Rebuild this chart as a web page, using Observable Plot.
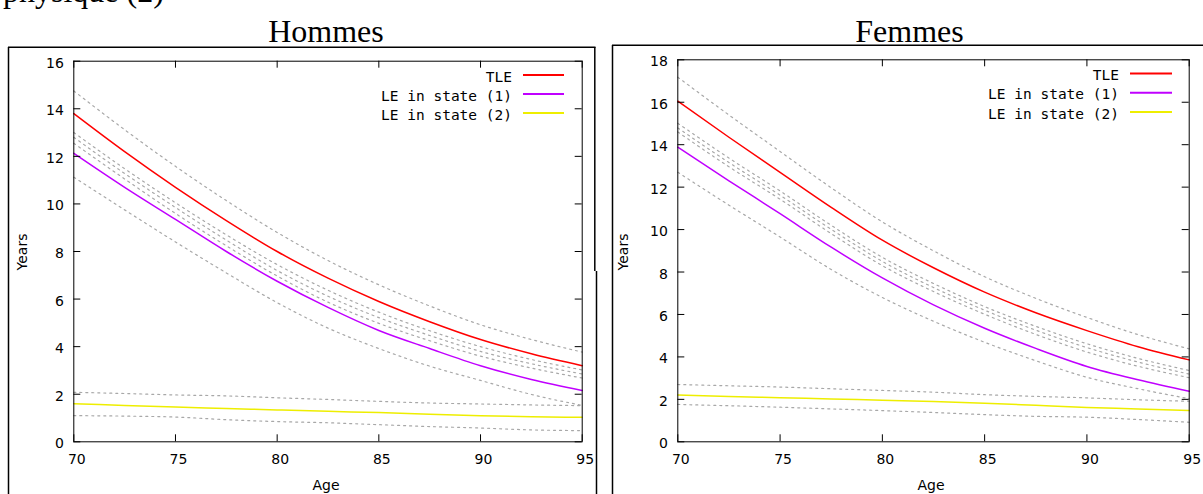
<!DOCTYPE html>
<html>
<head>
<meta charset="utf-8">
<script src="https://cdn.jsdelivr.net/npm/d3@7"></script>
<script src="https://cdn.jsdelivr.net/npm/@observablehq/plot@0.6"></script>
<style>
  html, body { margin: 0; padding: 0; background: #fff; }
  #root { position: relative; width: 1203px; height: 494px; overflow: hidden; background: #fff; }
  .chart { position: absolute; }
  #overlay { position: absolute; left: 0; top: 0; pointer-events: none; }
</style>
</head>
<body>
<div id="root">
  <div id="left" class="chart" style="left:9px; top:47px;"></div>
  <div id="right" class="chart" style="left:613px; top:46px;"></div>
</div>
<script>
// ---------- data ----------
const ages = [70, 72.5, 75, 77.5, 80, 82.5, 85, 87.5, 90, 92.5, 95];
const xTicks = [70, 75, 80, 85, 90, 95];
const yTicksH = [0, 2, 4, 6, 8, 10, 12, 14, 16];
const yTicksF = [0, 2, 4, 6, 8, 10, 12, 14, 16, 18];
const legendLabels = ["TLE", "LE in state (1)", "LE in state (2)"];
const seriesColors = ["#ff0000", "#c000ff", "#eeee00"];

// Hommes
const hTLE     = [13.8, 12.2, 10.7, 9.3, 8.0, 6.88, 5.9, 5.05, 4.3, 3.7, 3.2];
const hTLEhi   = [14.75, 13.12, 11.58, 10.14, 8.8, 7.62, 6.6, 5.71, 4.92, 4.3, 3.77];
const hCIa     = [13.0, 11.48, 10.05, 8.7, 7.45, 6.37, 5.45, 4.67, 4.0, 3.46, 3.02];
const hCIb     = [12.8, 11.28, 9.85, 8.48, 7.2, 6.12, 5.22, 4.47, 3.8, 3.28, 2.85];
const hCIc     = [12.55, 11.05, 9.6, 8.24, 6.97, 5.87, 4.98, 4.25, 3.6, 3.1, 2.68];
const hLE1     = [12.13, 10.7, 9.35, 8.0, 6.75, 5.65, 4.68, 3.92, 3.2, 2.62, 2.16];
const hLE1lo   = [11.12, 9.75, 8.4, 7.1, 5.85, 4.78, 3.92, 3.18, 2.58, 1.99, 1.53];
const hLE2     = [1.6, 1.53, 1.46, 1.4, 1.34, 1.28, 1.23, 1.16, 1.1, 1.05, 1.03];
const hLE2hi   = [2.08, 2.03, 1.97, 1.93, 1.85, 1.78, 1.7, 1.63, 1.59, 1.55, 1.52];
const hLE2lo   = [1.1, 1.08, 1.04, 0.93, 0.85, 0.8, 0.72, 0.64, 0.58, 0.5, 0.47];

// Femmes
const fTLE     = [16.05, 14.35, 12.7, 11.05, 9.5, 8.2, 7.05, 6.08, 5.24, 4.48, 3.86];
const fTLEhi   = [17.18, 15.4, 13.68, 11.97, 10.36, 9.0, 7.78, 6.76, 5.86, 5.05, 4.38];
const fCIa     = [15.01, 13.37, 11.82, 10.2, 8.69, 7.46, 6.37, 5.44, 4.62, 3.93, 3.36];
const fCIb     = [14.79, 13.16, 11.62, 10.01, 8.5, 7.27, 6.2, 5.26, 4.44, 3.76, 3.19];
const fCIc     = [14.6, 12.96, 11.43, 9.81, 8.3, 7.08, 6.01, 5.06, 4.23, 3.56, 3.02];
const fLE1     = [13.88, 12.3, 10.75, 9.17, 7.72, 6.45, 5.35, 4.4, 3.55, 2.92, 2.38];
const fLE1lo   = [12.7, 11.15, 9.65, 8.12, 6.8, 5.68, 4.69, 3.82, 3.04, 2.5, 2.03];
const fLE2     = [2.21, 2.14, 2.08, 2.02, 1.96, 1.9, 1.82, 1.72, 1.62, 1.55, 1.47];
const fLE2hi   = [2.7, 2.64, 2.58, 2.5, 2.42, 2.34, 2.22, 2.14, 2.07, 1.98, 1.91];
const fLE2lo   = [1.76, 1.7, 1.63, 1.55, 1.47, 1.38, 1.28, 1.2, 1.16, 1.05, 0.92];

// ---------- helpers ----------
function rows(values, name) {
  return ages.map((a, i) => ({age: a, value: values[i], series: name}));
}

function makeChart({width, height, mL, mR, mT, mB, yMax, yTicks, main, ci}) {
  const pw = width - mL - mR;
  const ph = height - mT - mB;
  const grayRows = ci.flatMap((arr, k) => rows(arr, "ci" + k));
  const marks = [
    Plot.line(grayRows, {x: "age", y: "value", z: "series", stroke: "#a8a8a8",
      strokeWidth: 1.2, strokeDasharray: "2,4", curve: "monotone-x"})
  ];
  main.forEach((arr, k) => {
    marks.push(Plot.line(rows(arr, legendLabels[k]), {x: "age", y: "value",
      stroke: seriesColors[k], strokeWidth: 1.5, curve: "monotone-x"}));
  });
  marks.push(
    Plot.frame({stroke: "#000", strokeWidth: 1}),
    Plot.tickY(yTicks, {y: d => d, insetRight: pw - 7, stroke: "#000"}),
    Plot.tickY(yTicks, {y: d => d, insetLeft: pw - 7, stroke: "#000"}),
    Plot.tickX(xTicks, {x: d => d, insetTop: ph - 7, stroke: "#000"}),
    Plot.tickX(xTicks, {x: d => d, insetBottom: ph - 7, stroke: "#000"}),
    Plot.axisY({ticks: yTicks, tickSize: 0, tickPadding: 10, label: null, dy: 2}),
    Plot.axisX({ticks: xTicks, tickSize: 0, tickPadding: 12, label: null, dx: 3})
  );
  return Plot.plot({
    width, height,
    marginLeft: mL, marginRight: mR, marginTop: mT, marginBottom: mB,
    x: {domain: [70, 95]},
    y: {domain: [0, yMax]},
    style: {fontFamily: "'DejaVu Sans', sans-serif", fontSize: "14px", color: "#000",
      background: "transparent", overflow: "visible"},
    marks
  });
}

document.getElementById("left").appendChild(makeChart({
  width: 586, height: 447, mL: 64.3, mR: 13.3, mT: 13.7, mB: 52.7,
  yMax: 16, yTicks: yTicksH,
  main: [hTLE, hLE1, hLE2],
  ci: [hTLEhi, hCIa, hCIb, hCIc, hLE1lo, hLE2hi, hLE2lo]
}));

document.getElementById("right").appendChild(makeChart({
  width: 590, height: 448, mL: 64.3, mR: 14.3, mT: 13.3, mB: 52.7,
  yMax: 18, yTicks: yTicksF,
  main: [fTLE, fLE1, fLE2],
  ci: [fTLEhi, fCIa, fCIb, fCIc, fLE1lo, fLE2hi, fLE2lo]
}));

// ---------- overlay: titles, frames, axis labels, legends ----------
const ns = "http://www.w3.org/2000/svg";
const ov = document.createElementNS(ns, "svg");
ov.setAttribute("id", "overlay");
ov.setAttribute("width", 1203);
ov.setAttribute("height", 494);
document.getElementById("root").appendChild(ov);

function el(tag, attrs, text) {
  const e = document.createElementNS(ns, tag);
  for (const k in attrs) e.setAttribute(k, attrs[k]);
  if (text != null) e.textContent = text;
  ov.appendChild(e);
  return e;
}
const serif = "'Liberation Serif', 'Times New Roman', serif";
el("text", {x: 3, y: 2, "font-family": serif, "font-size": 32, fill: "#000"}, "physique (2)");
el("text", {x: 326, y: 41.5, "font-family": serif, "font-size": 32, fill: "#000", "text-anchor": "middle"}, "Hommes");
el("text", {x: 909.5, y: 41.5, "font-family": serif, "font-size": 32, fill: "#000", "text-anchor": "middle"}, "Femmes");

// image frames
const line = (x1, y1, x2, y2, w = 1.5) => el("line", {x1, y1, x2, y2, stroke: "#000", "stroke-width": w});
line(8.5, 47, 8.5, 494);
line(8, 47.3, 595.5, 47.3);
line(594.8, 47, 594.8, 271);
line(596.5, 271, 596.5, 494);
line(612.5, 45, 612.5, 494);
line(612, 45.3, 1203, 45.3);

// axis labels
const sans = "'DejaVu Sans', sans-serif";
el("text", {x: 0, y: 0, transform: "translate(27,252) rotate(-90)", "font-family": sans, "font-size": 14, "text-anchor": "middle"}, "Years");
el("text", {x: 0, y: 0, transform: "translate(628,252) rotate(-90)", "font-family": sans, "font-size": 14, "text-anchor": "middle"}, "Years");
el("text", {x: 326, y: 490, "font-family": sans, "font-size": 14, "text-anchor": "middle"}, "Age");
el("text", {x: 931, y: 490, "font-family": sans, "font-size": 14, "text-anchor": "middle"}, "Age");

// legends
const mono = "'DejaVu Sans Mono', monospace";
function legend(textRight, lx1, lx2, baselines) {
  legendLabels.forEach((lab, i) => {
    el("text", {x: textRight, y: baselines[i], "font-family": mono, "font-size": 14.5, "text-anchor": "end", fill: "#000"}, lab);
    el("line", {x1: lx1, x2: lx2, y1: baselines[i] - 6.5, y2: baselines[i] - 6.5, stroke: seriesColors[i], "stroke-width": 2});
  });
}
legend(512, 523, 564, [81.5, 100.5, 119.5]);
legend(1119, 1130, 1172, [80, 99.3, 118.5]);
</script>
</body>
</html>
